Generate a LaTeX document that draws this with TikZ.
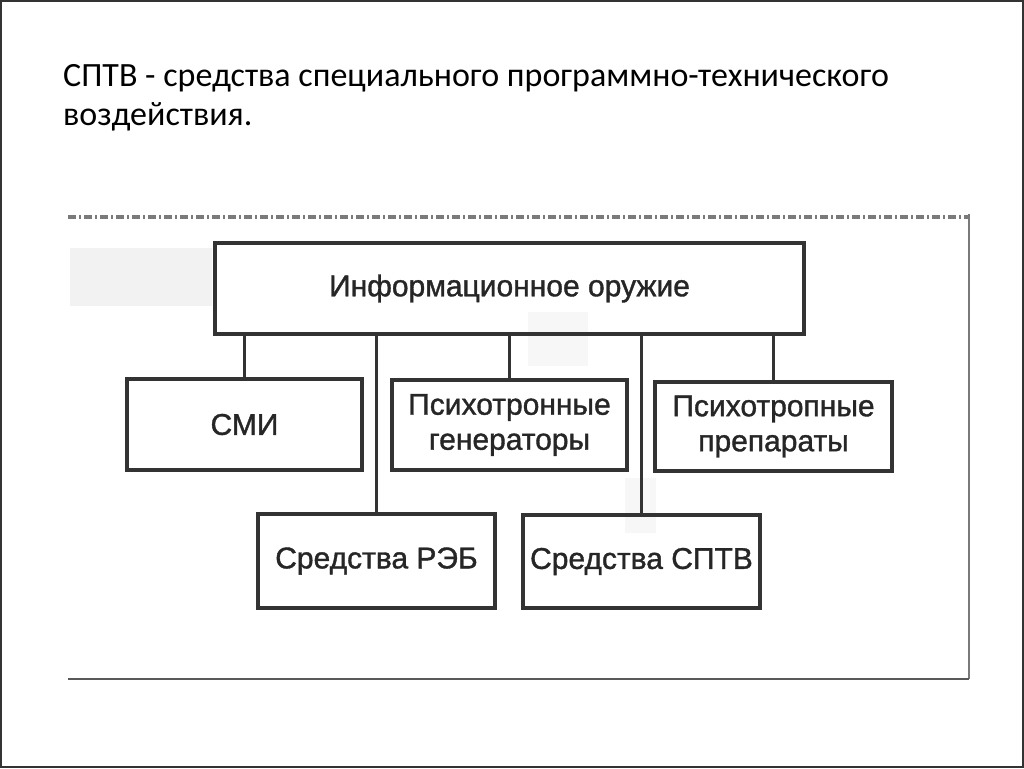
\documentclass[tikz,border=0pt]{standalone}
\usepackage{fontspec}
\setmainfont{Carlito}
\newfontfamily\diagfont[FakeBold=1.2]{Liberation Sans}
\definecolor{ink}{HTML}{333333}
\definecolor{txt}{HTML}{262626}
\definecolor{scanline}{HTML}{7A7A7A}
\tikzset{
  box/.style={draw=ink, line width=3.2pt, inner sep=0pt, align=center,
    font=\diagfont\fontsize{30}{35}\selectfont, text=txt},
  link/.style={draw=ink, line width=2.2pt},
  titletext/.style={anchor=base west, inner sep=0pt,
    font=\fontsize{34}{39}\selectfont, text=black},
  patch/.style={fill=black!5}
}
\begin{document}
\begin{tikzpicture}[x=1pt,y=-1pt]
\useasboundingbox (0,0) rectangle (1024,768);
\fill[white] (0,0) rectangle (1024,768);
\draw[black!80, line width=2.5pt] (1,1) rectangle (1023,767);

% title
\node[titletext] (t1) at (63,86) {СПТВ - средства специального программно-технического};
\node[titletext] (t2) at (63,125) {воздействия.};

% scanned frame
\fill[patch] (70,248) rectangle (212,306);
\fill[black!3] (528,312) rectangle (588,366);
\fill[black!3] (625,478) rectangle (656,533);
\draw[scanline, line width=3.5pt, dash pattern=on 8pt off 3pt on 2pt off 3pt] (68,217) -- (969,217);
\draw[scanline, line width=1.3pt] (969,214) -- (969,679);
\draw[black!65, line width=2pt] (68,679) -- (969,679);

% boxes
\node[box, minimum width=589pt, minimum height=91pt] (weapon) at (509.5,288.5) {Информационное оружие};
\node[box, minimum width=235pt, minimum height=91pt] (smi) at (244.5,424.5) {СМИ};
\node[box, minimum width=235pt, minimum height=90pt] (gen) at (509.5,425) {Психотронные\\генераторы};
\node[box, minimum width=237pt, minimum height=89pt] (prep) at (773.5,426.5) {Психотропные\\препараты};
\node[box, minimum width=237pt, minimum height=94pt] (reb) at (376.5,561) {Средства РЭБ};
\node[box, minimum width=237pt, minimum height=93pt] (sptv) at (641.5,561.5) {Средства СПТВ};

% connectors
\draw[link] (smi.north |- weapon.south) -- (smi.north);
\draw[link] (reb.north |- weapon.south) -- (reb.north);
\draw[link] (gen.north |- weapon.south) -- (gen.north);
\draw[link] (sptv.north |- weapon.south) -- (sptv.north);
\draw[link] (prep.north |- weapon.south) -- (prep.north);
\end{tikzpicture}
\end{document}
